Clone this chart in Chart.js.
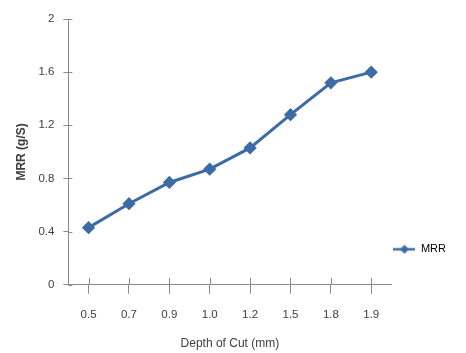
<!DOCTYPE html>
<html>
<head>
<meta charset="utf-8">
<script src="https://cdn.jsdelivr.net/npm/chart.js@4/dist/chart.umd.min.js"></script>
<style>
  html, body { margin: 0; padding: 0; background: #ffffff; }
  #wrap { width: 466px; height: 353px; }
</style>
</head>
<body>
<div id="wrap"><canvas id="c" width="466" height="353"></canvas></div>
<script>
const categories = ['0.5', '0.7', '0.9', '1.0', '1.2', '1.5', '1.8', '1.9'];
const mrrValues = [0.43, 0.61, 0.77, 0.87, 1.03, 1.28, 1.52, 1.60];
const yTickValues = [0, 0.4, 0.8, 1.2, 1.6, 2];
const seriesName = 'MRR';
const xTitle = 'Depth of Cut (mm)';
const yTitle = 'MRR (g/S)';

const lineColor = '#3d6ba6';
const axisColor = '#8c8c8c';
const textColor = '#404040';
const FONT = 'Liberation Sans';

// legend marker: line with diamond
const marker = document.createElement('canvas');
marker.width = 22; marker.height = 10;
(function () {
  const g = marker.getContext('2d');
  g.strokeStyle = lineColor; g.lineWidth = 2.5;
  g.beginPath(); g.moveTo(0, 5); g.lineTo(22, 5); g.stroke();
  g.fillStyle = lineColor;
  g.beginPath(); g.moveTo(11, 0.5); g.lineTo(15.5, 5); g.lineTo(11, 9.5); g.lineTo(6.5, 5); g.closePath(); g.fill();
})();

// ticks that cross the axis line (inner part drawn here)
const innerTicks = {
  id: 'innerTicks',
  afterDraw(chart) {
    const ctx = chart.ctx;
    const xs = chart.scales.x, ys = chart.scales.y;
    ctx.save();
    ctx.strokeStyle = axisColor; ctx.lineWidth = 1;
    ctx.beginPath();
    xs.ticks.forEach((t, i) => {
      const px = Math.round(xs.getPixelForTick(i)) + 0.5;
      ctx.moveTo(px, xs.top); ctx.lineTo(px, xs.top - 7);
    });
    ys.ticks.forEach((t, i) => {
      const py = Math.round(ys.getPixelForTick(i)) + 0.5;
      ctx.moveTo(ys.right, py); ctx.lineTo(ys.right + 4, py);
    });
    ctx.stroke();
    ctx.restore();
  }
};

// place the legend lower, beside the bottom of the plot
const legendShift = {
  id: 'legendShift',
  afterLayout(chart) {
    const lg = chart.legend;
    if (lg) { lg.bottom = chart.chartArea.bottom - 28; }
  }
};

new Chart(document.getElementById('c'), {
  type: 'line',
  data: {
    labels: categories,
    datasets: [{
      label: seriesName,
      data: mrrValues,
      borderColor: lineColor,
      backgroundColor: lineColor,
      borderWidth: 3,
      pointStyle: 'rectRot',
      pointRadius: 4.5,
      pointBackgroundColor: lineColor,
      pointBorderColor: lineColor,
      tension: 0
    }]
  },
  plugins: [innerTicks, legendShift],
  options: {
    responsive: false,
    animation: false,
    layout: { padding: { top: 19, left: 14, right: 10, bottom: 2 } },
    plugins: {
      tooltip: { enabled: false },
      legend: {
        position: 'right',
        align: 'end',
        fullSize: false,
        labels: {
          usePointStyle: true,
          pointStyleWidth: 22,
          padding: 2,
          color: textColor,
          font: { family: FONT, size: 11 },
          generateLabels: (chart) => [{
            text: seriesName,
            pointStyle: marker,
            fillStyle: lineColor,
            strokeStyle: lineColor,
            lineWidth: 0,
            hidden: false,
            datasetIndex: 0
          }]
        }
      }
    },
    scales: {
      x: {
        type: 'category',
        offset: true,
        grid: { display: true, drawOnChartArea: false, drawTicks: true, tickLength: 9, color: axisColor, offset: false },
        border: { display: true, color: axisColor, width: 1 },
        ticks: {
          color: textColor, padding: 14,
          font: { family: FONT, size: 11.5 },
          autoSkip: false, maxRotation: 0
        },
        title: {
          display: true, text: xTitle, color: textColor,
          font: { family: FONT, size: 12 },
          padding: { top: 1, bottom: 0 }
        }
      },
      y: {
        min: 0, max: 2,
        afterBuildTicks: (axis) => { axis.ticks = yTickValues.map(v => ({ value: v })); },
        grid: { display: true, drawOnChartArea: false, drawTicks: true, tickLength: 5, color: axisColor },
        border: { display: true, color: axisColor, width: 1 },
        ticks: {
          color: textColor, padding: 9,
          font: { family: FONT, size: 11.5 },
          callback: (v) => (v === 0 || v === 2) ? String(v) : v.toFixed(1)
        },
        title: {
          display: true, text: yTitle, color: textColor,
          font: { family: FONT, size: 12, weight: 'bold' },
          padding: { top: 0, bottom: 1 }
        }
      }
    }
  }
});
</script>
</body>
</html>
